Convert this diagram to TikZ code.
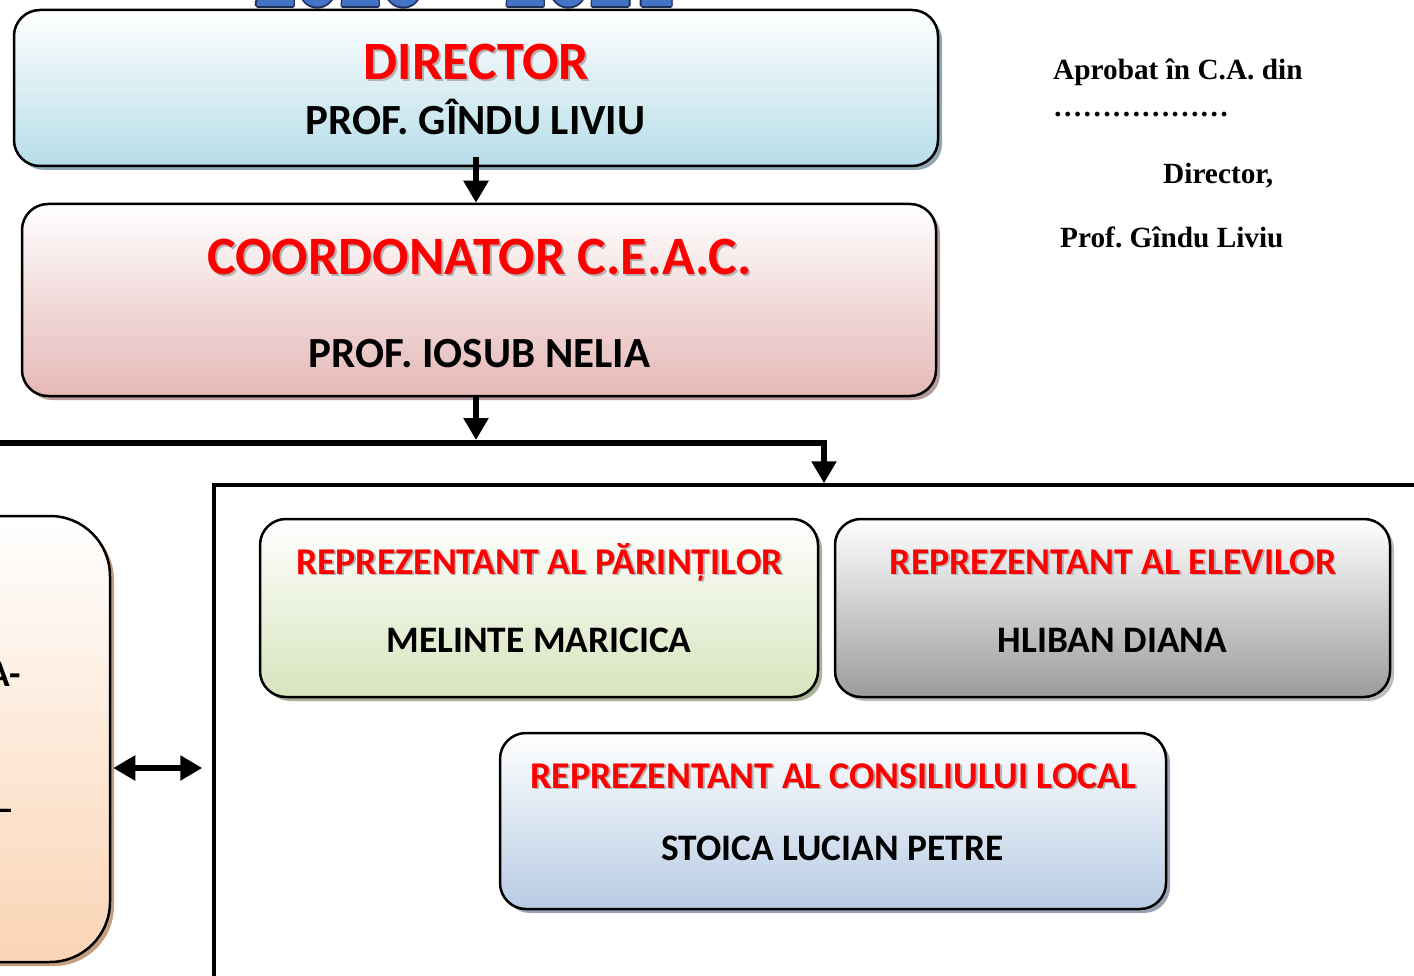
\documentclass[tikz,border=0pt]{standalone}
\usepackage{fontspec}
\setmainfont{Carlito}
\newfontfamily\tnr{Liberation Serif}
\usetikzlibrary{arrows.meta,shadows,calc}
\frenchspacing
\definecolor{dirbot}{HTML}{B6DDE8}
\definecolor{dirsh}{HTML}{8EA9B1}
\definecolor{coobot}{HTML}{E5B8B7}
\definecolor{coosh}{HTML}{B49A9A}
\definecolor{parbot}{HTML}{D7E4BD}
\definecolor{parsh}{HTML}{A8B294}
\definecolor{elebot}{HTML}{9C9C9C}
\definecolor{elesh}{HTML}{BDBDBD}
\definecolor{conbot}{HTML}{B8CCE4}
\definecolor{consh}{HTML}{98A4B4}
\definecolor{lefbot}{HTML}{FBD4B4}
\definecolor{lefsh}{HTML}{C49E7F}
\definecolor{ttlblue}{HTML}{4472C4}
\definecolor{ttlline}{HTML}{1F2F5A}
\newcommand\redsh[1]{\rlap{\kern1.8pt\raisebox{-1.8pt}{\textcolor{black!30}{#1}}}\textcolor{red}{#1}}
\tikzset{
  box/.style 2 args={draw=black, line width=2.5pt, rounded corners=26pt, inner sep=0pt,
    top color=white, bottom color=#1,
    drop shadow={shadow xshift=4pt, shadow yshift=-4pt, fill=#2, opacity=1}},
  headlbl/.style={anchor=base, inner sep=0pt, font=\bfseries\fontsize{54}{60}\selectfont},
  bignmlbl/.style={anchor=base, inner sep=0pt, font=\bfseries\fontsize{43}{48}\selectfont},
  redlbl/.style={anchor=base, inner sep=0pt, font=\bfseries\fontsize{37.8}{42}\selectfont},
  nmlbl/.style={anchor=base, inner sep=0pt, font=\bfseries\fontsize{37.4}{42}\selectfont},
  asidelbl/.style={anchor=base west, inner sep=0pt, font=\tnr\bfseries\fontsize{29.3}{34}\selectfont},
  ttllbl/.style={anchor=base, inner sep=0pt, font=\bfseries\fontsize{84}{90}\selectfont},
  ttlo/.style={ttllbl, text=ttlline},
  conn/.style={line width=6.5pt}
}
\begin{document}
\begin{tikzpicture}[x=1pt,y=-1pt,>={Triangle[width=24pt,length=22pt]}]
\useasboundingbox (0,0) rectangle (1414,976);
\fill[white] (0,0) rectangle (1414,976);

% title (cut off at the top)
\node[ttlo] (tto1) at (463.1,7) {2020 – 2021};
\node[ttlo] (tto2) at (465.9,7) {2020 – 2021};
\node[ttlo] (tto3) at (464.5,5.6) {2020 – 2021};
\node[ttlo] (tto4) at (464.5,8.4) {2020 – 2021};
\node[ttlo] (tto5) at (463.5,6) {2020 – 2021};
\node[ttlo] (tto6) at (465.5,8) {2020 – 2021};
\node[ttlo] (tto7) at (463.5,8) {2020 – 2021};
\node[ttlo] (tto8) at (465.5,6) {2020 – 2021};
\node[ttllbl, text=ttlblue] (ttl) at (464.5,7) {2020 – 2021};

% big group rectangle
\node[draw, line width=3.5pt, minimum width=1230pt, minimum height=510pt, inner sep=0pt] (grp) at (829,740) {};

% boxes
\node[box={dirbot}{dirsh}, minimum width=924pt, minimum height=156pt] (dir) at (476,88) {};
\node[headlbl] (dirT) at (476.5,80) {\redsh{DIRECTOR}};
\node[bignmlbl] (dirN) at (475.5,135) {PROF. GÎNDU LIVIU};

\node[box={coobot}{coosh}, minimum width=914pt, minimum height=192pt] (coo) at (479,300) {};
\node[headlbl] (cooT) at (479.5,275) {\redsh{COORDONATOR C.E.A.C.}};
\node[bignmlbl] (cooN) at (479.5,367) {PROF. IOSUB NELIA};

\node[box={parbot}{parsh}, minimum width=558pt, minimum height=178pt] (par) at (539,608) {};
\node[redlbl] (parT) at (539.5,574) {\redsh{REPREZENTANT AL PĂRINȚILOR}};
\node[nmlbl] (parN) at (539,652) {MELINTE MARICICA};

\node[box={elebot}{elesh}, minimum width=555pt, minimum height=178pt] (ele) at (1112.5,608) {};
\node[redlbl] (eleT) at (1113,574) {\redsh{REPREZENTANT AL ELEVILOR}};
\node[nmlbl] (eleN) at (1112.5,652) {HLIBAN DIANA};

\node[box={conbot}{consh}, minimum width=666pt, minimum height=176pt] (con) at (833,821) {};
\node[redlbl] (conT) at (833.5,788) {\redsh{REPREZENTANT AL CONSILIULUI LOCAL}};
\node[nmlbl] (conN) at (832.5,860) {STOICA LUCIAN PETRE};

\node[box={lefbot}{lefsh}, rounded corners=60pt, minimum width=360pt, minimum height=446pt] (lft) at (-70,739) {};
\node[nmlbl, anchor=base east] (lfa) at (21,686) {A-};
\node[nmlbl, anchor=base east] (lfb) at (14,821) {–};

% connectors
\coordinate (busL) at (-20,443);
\coordinate (busR) at (824,443);
\coordinate (dy) at (0,768);
\draw[conn,->] ([yshift=10pt]dir.south) -- (dir.south |- coo.north);
\draw[conn,->] (dir.south |- coo.south) -- ([yshift=3pt]dir.south |- busR);
\draw[conn,->] (busL) -- (busR) -- (busR |- grp.north);
\draw[conn,<->] ([xshift=2pt]lft.east |- dy) -- ([xshift=-10pt]grp.west |- dy);

% approval text
\node[asidelbl] (ap1) at (1053,80) {Aprobat în C.A. din};
\node[asidelbl] (ap2) at (1053,117) {………………};
\node[asidelbl] (ap3) at (1163,184) {Director,};
\node[asidelbl] (ap4) at (1060,248) {Prof. Gîndu Liviu};
\end{tikzpicture}
\end{document}
